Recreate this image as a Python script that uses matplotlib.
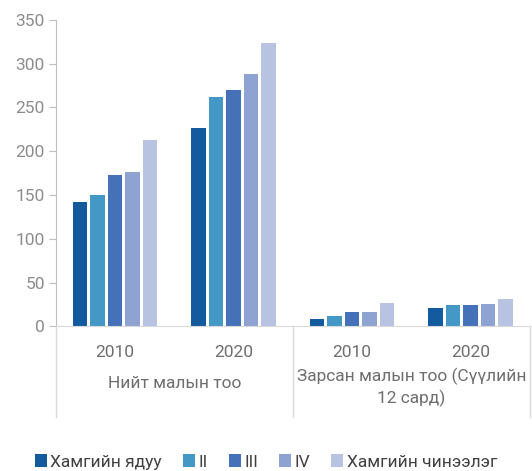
import numpy as np
import matplotlib.pyplot as plt

plt.rcParams['font.family'] = ['Roboto', 'DejaVu Sans']

# ---------------------- Data ----------------------

years = ["2010", "2020", "2010", "2020"]
groups = ["Нийт малын тоо", "Зарсан малын тоо (Сүүлийн\n12 сард)"]
series = ["Хамгийн ядуу", "II", "III", "IV", "Хамгийн чинээлэг"]

poorest = [142, 227, 8, 21]
q2 = [150, 262, 12, 24]
q3 = [173, 270, 16, 24]
q4 = [176, 288, 17, 26]
richest = [213, 324, 27, 31]

colors = ["#135A9E", "#4398C6", "#4571B8", "#8FA3D3", "#B8C3E1"]

# ---------------------- Plot ----------------------

fig = plt.figure(figsize=(5.32, 4.71), dpi=100)
ax = fig.add_axes([0.105, 0.307, 0.891, 0.651])

x = np.arange(len(years))
pitch = 0.148
for i, (vals, name) in enumerate(zip([poorest, q2, q3, q4, richest], series)):
    ax.bar(x + (i - 2) * pitch, vals, width=0.122, color=colors[i], label=name)

ax.set_xlim(-0.5, 3.5)
ax.set_ylim(0, 350)
ax.set_yticks(range(0, 351, 50))
ax.set_xticks([])

for s in ['top', 'right']:
    ax.spines[s].set_visible(False)
ax.spines['left'].set_color('#BFBFBF')
ax.spines['bottom'].set_color('#D9D9D9')
ax.tick_params(axis='y', colors='#BFBFBF', length=5, labelsize=12.5,
               labelcolor='#8C8C8C', pad=3)

# multi-level category axis
trans = ax.get_xaxis_transform()
for xb in [-0.5, 1.5, 3.5]:
    ax.plot([xb, xb], [0, -0.295], transform=trans, color='#D9D9D9',
            lw=1, clip_on=False)
for xi, yr in zip(x, years):
    ax.text(xi, -0.085, yr, transform=trans, ha='center', va='center',
            fontsize=12.5, color='#6E6E6E')
ax.text(0.5, -0.186, groups[0], transform=trans, ha='center', va='center',
        fontsize=12.5, color='#6E6E6E')
ax.text(2.5, -0.2, groups[1], transform=trans, ha='center', va='center',
        fontsize=12.5, color='#6E6E6E', linespacing=1.35)

fig.legend(loc='center', bbox_to_anchor=(0.5, 0.019), ncol=5,
           frameon=False, fontsize=12.5, handlelength=0.7, handleheight=0.7,
           handletextpad=0.2, columnspacing=1.2, labelcolor='#404040')

fig.savefig("out.png", dpi=100)
